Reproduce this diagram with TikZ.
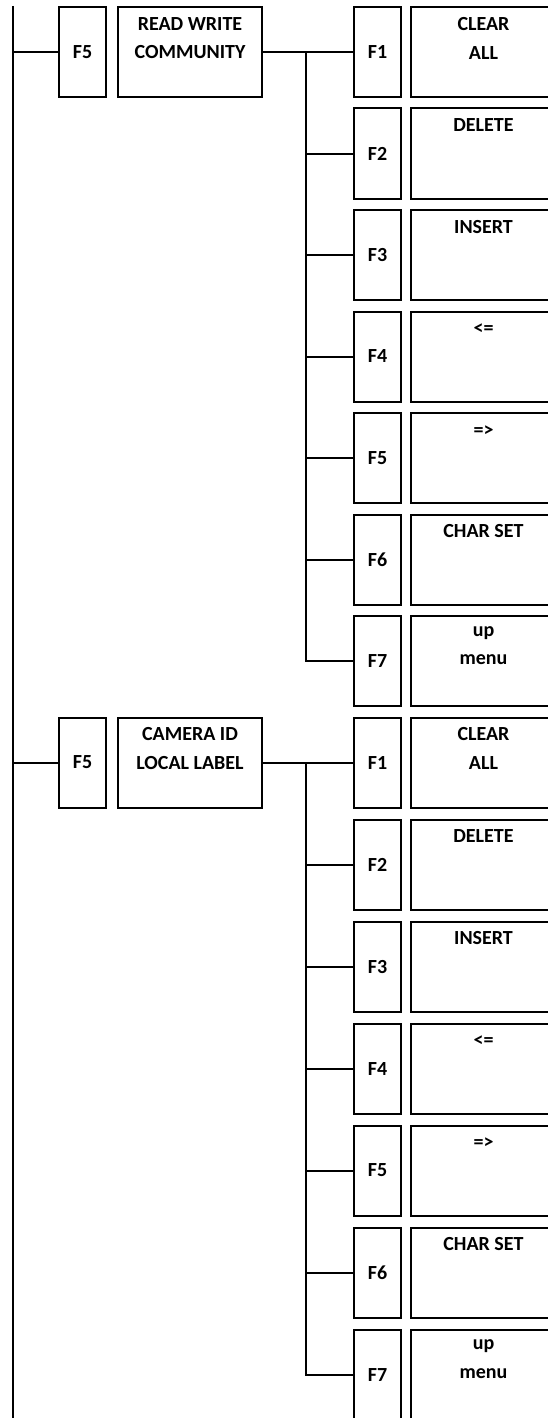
\documentclass[tikz,border=0pt]{standalone}
\usepackage{fontspec}
\setmainfont{Carlito}

\tikzset{
  link/.style={line width=2pt},
  keybox/.style={draw,line width=2pt,outer sep=0pt,inner sep=0pt,anchor=north west,
    minimum width=47pt,minimum height=90pt,font=\bfseries\fontsize{20}{28.8}\selectfont},
  menubox/.style={draw,line width=2pt,outer sep=0pt,inner sep=0pt,anchor=north west,
    minimum height=90pt},
  menutext/.style={anchor=north,inner sep=0pt,align=center,yshift=-10pt,
    execute at begin node={\rule{0pt}{12.8pt}},
    font=\bfseries\fontsize{20}{28.8}\selectfont}
}

\begin{document}
\begin{tikzpicture}[x=1pt,y=-1pt]
\useasboundingbox (0,0) rectangle (547,1418);
\coordinate (top) at (13,6);
\coordinate (bottom) at (13,1418);
\draw[link] (top) -- (bottom);
\foreach \g/\gtop/\gstep/\head in {1/7/101.5/{READ WRITE\\COMMUNITY},2/717.5/102/{CAMERA ID\\LOCAL LABEL}} {
  % F5 key and its sub-menu title
  \node[keybox] (p\g) at (59,\gtop) {F5};
  \node[menubox,minimum width=144pt,label={[menutext]north:{\head}}] (t\g) at (118,\gtop) {};
  \draw[link] (top |- p\g.west) -- (p\g.west);
  % keys F1..F7 of the sub-menu
  \foreach \i/\txt in {1/{CLEAR\\ALL},2/DELETE,3/INSERT,4/{<=},5/{=>},6/{CHAR SET},7/{up\\menu}} {
    \pgfmathsetmacro\ytop{\gtop+(\i-1)*\gstep}
    \node[keybox] (f\g\i) at (354,\ytop) {F\i};
    \node[menubox,minimum width=145pt,label={[menutext]north:{\txt}}] (m\g\i) at (411,\ytop) {};
  }
  \coordinate (br\g) at (306,0);
  \draw[link] (t\g.east) -- (f\g1.west);
  \draw[link] (br\g |- f\g1.west) -- (br\g |- f\g7.west) -- (f\g7.west);
  \foreach \i in {2,...,6} \draw[link] (br\g |- f\g\i.west) -- (f\g\i.west);
}
\end{tikzpicture}
\end{document}
